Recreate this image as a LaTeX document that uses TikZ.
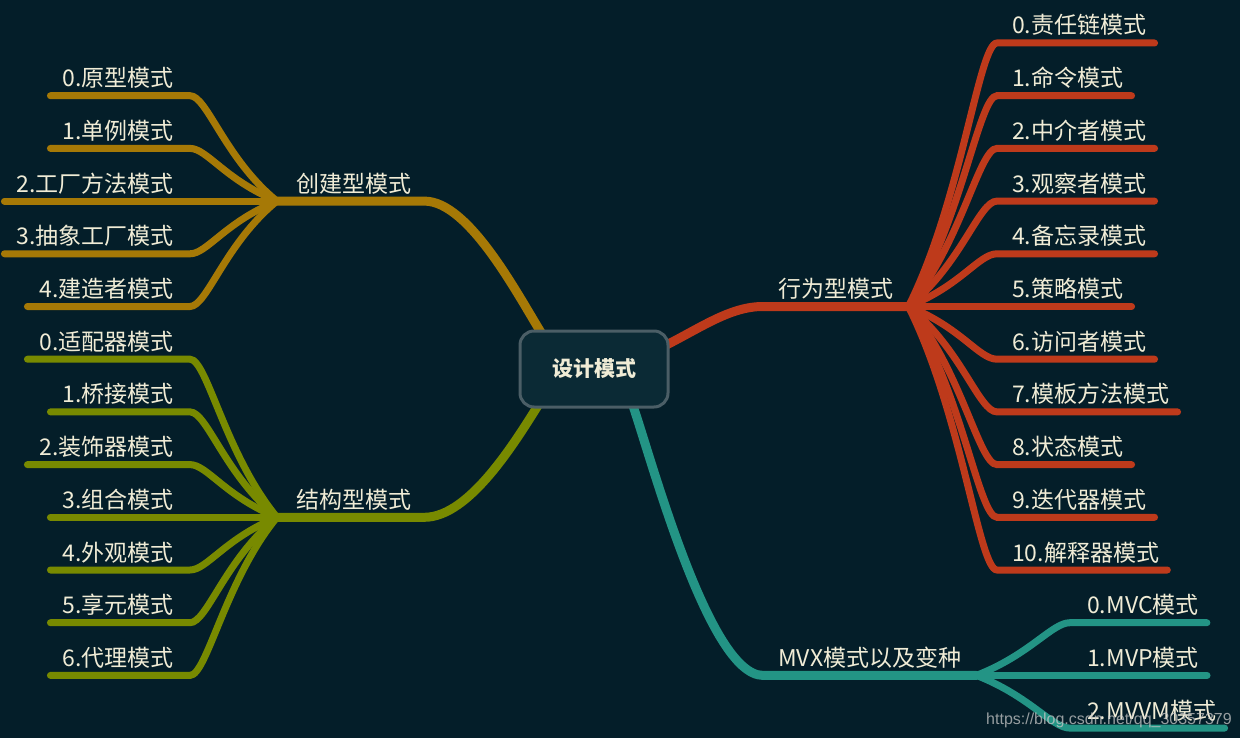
\documentclass[tikz,border=0pt]{standalone}
\usepackage{fontspec}
\setmainfont{Noto Sans CJK SC}
\newfontfamily\wmfont{Liberation Sans}
\usetikzlibrary{backgrounds}

\definecolor{bgcol}{RGB}{4,30,41}
\definecolor{txtcol}{RGB}{240,236,214}
\definecolor{rootfill}{RGB}{11,42,53}
\definecolor{rootline}{RGB}{75,94,102}
\definecolor{goldcol}{RGB}{166,121,6}
\definecolor{olivecol}{RGB}{120,138,0}
\definecolor{redcol}{RGB}{190,58,27}
\definecolor{tealcol}{RGB}{35,148,133}
\definecolor{wmcol}{RGB}{200,200,200}

\begin{document}
\begin{tikzpicture}[x=1pt,y=-1pt,
  leaf/.style={text=txtcol, font=\fontsize{23}{28}\selectfont, inner sep=0pt},
  rootbox/.style={draw=rootline, fill=rootfill, line width=3pt, rounded corners=14pt,
    minimum width=148pt, minimum height=76pt, text=txtcol,
    font=\fontsize{21}{24}\selectfont\bfseries},
  conn/.style={line width=7pt, line cap=round},
  trunk/.style={line width=9pt, line cap=round}]
\useasboundingbox (0,0) rectangle (1240,738);
\node[rootbox] (root) at (594,369) {设计模式};
% main topics
\node[leaf, anchor=base west] (A) at (296,192.1) {创建型模式};
\node[leaf, anchor=base west] (B) at (778,297.5) {行为型模式};
\node[leaf, anchor=base west] (C) at (296,508.3) {结构型模式};
\node[leaf, anchor=base west] (D) at (778,666.4) {MVX模式以及变种};
\coordinate (jA) at ([shift={(-19,9)}]A.base west);
\coordinate (jB) at ([shift={(15,9)}]B.base east);
\coordinate (jC) at ([shift={(-19,9)}]C.base west);
\coordinate (jD) at ([shift={(15,9)}]D.base east);
% creational
\node[leaf, anchor=base east] (a0) at (174,86.7) {0.原型模式};
\node[leaf, anchor=base east] (a1) at (174,139.4) {1.单例模式};
\node[leaf, anchor=base east] (a2) at (174,192.1) {2.工厂方法模式};
\node[leaf, anchor=base east] (a3) at (174,244.8) {3.抽象工厂模式};
\node[leaf, anchor=base east] (a4) at (174,297.5) {4.建造者模式};
% structural
\node[leaf, anchor=base east] (c0) at (174,350.2) {0.适配器模式};
\node[leaf, anchor=base east] (c1) at (174,402.9) {1.桥接模式};
\node[leaf, anchor=base east] (c2) at (174,455.6) {2.装饰器模式};
\node[leaf, anchor=base east] (c3) at (174,508.3) {3.组合模式};
\node[leaf, anchor=base east] (c4) at (174,561) {4.外观模式};
\node[leaf, anchor=base east] (c5) at (174,613.7) {5.享元模式};
\node[leaf, anchor=base east] (c6) at (174,666.4) {6.代理模式};
% behavioral
\node[leaf, anchor=base west] (b0) at (1012,34) {0.责任链模式};
\node[leaf, anchor=base west] (b1) at (1012,86.7) {1.命令模式};
\node[leaf, anchor=base west] (b2) at (1012,139.4) {2.中介者模式};
\node[leaf, anchor=base west] (b3) at (1012,192.1) {3.观察者模式};
\node[leaf, anchor=base west] (b4) at (1012,244.8) {4.备忘录模式};
\node[leaf, anchor=base west] (b5) at (1012,297.5) {5.策略模式};
\node[leaf, anchor=base west] (b6) at (1012,350.2) {6.访问者模式};
\node[leaf, anchor=base west] (b7) at (1012,402.9) {7.模板方法模式};
\node[leaf, anchor=base west] (b8) at (1012,455.6) {8.状态模式};
\node[leaf, anchor=base west] (b9) at (1012,508.3) {9.迭代器模式};
\node[leaf, anchor=base west] (b10) at (1012,561) {10.解释器模式};
% mvx
\node[leaf, anchor=base west] (d0) at (1087,613.7) {0.MVC模式};
\node[leaf, anchor=base west] (d1) at (1087,666.4) {1.MVP模式};
\node[leaf, anchor=base west] (d2) at (1087,719.1) {2.MVVM模式};
\node[font=\wmfont\fontsize{16}{19}\selectfont, text=wmcol, text opacity=0.75,
  anchor=base west, inner sep=0pt] (wm) at (986,724) {https://blog.csdn.net/qq\_30357379};

\begin{scope}[on background layer]
\fill[bgcol] (0,0) rectangle (1240,738);
% trunks
\draw[trunk, goldcol] ([shift={(25,7)}]root.north west) .. controls +(-25,-40) and +(45,0) .. ([shift={(13,9)}]A.base east) -- (jA);
\draw[trunk, olivecol] ([shift={(22,-7)}]root.south west) .. controls +(-25,40) and +(45,0) .. ([shift={(13,9)}]C.base east) -- (jC);
\draw[trunk, redcol] ([shift={(-8,18)}]root.north east) .. controls +(40,-20) and +(-33,0) .. ([shift={(-15,9)}]B.base west) -- (jB);
\draw[trunk, tealcol] ([shift={(-38,-7)}]root.south east) .. controls +(18,50) and +(-55,0) .. ([shift={(-15,9)}]D.base west) -- (jD);
% creational
\draw[conn, goldcol] (jA) .. controls +(-52,-42.2) and +(17,0) .. ([shift={(16,9)}]a0.base east) -- ([shift={(-12,9)}]a0.base west);
\draw[conn, goldcol] (jA) .. controls +(-52,-21.1) and +(17,0) .. ([shift={(16,9)}]a1.base east) -- ([shift={(-12,9)}]a1.base west);
\draw[conn, goldcol] (jA) -- ([shift={(16,9)}]a2.base east) -- ([shift={(-12,9)}]a2.base west);
\draw[conn, goldcol] (jA) .. controls +(-52,21.1) and +(17,0) .. ([shift={(16,9)}]a3.base east) -- ([shift={(-12,9)}]a3.base west);
\draw[conn, goldcol] (jA) .. controls +(-52,42.2) and +(17,0) .. ([shift={(16,9)}]a4.base east) -- ([shift={(-12,9)}]a4.base west);
% structural
\draw[conn, olivecol] (jC) .. controls +(-52,-63.2) and +(17,0) .. ([shift={(16,9)}]c0.base east) -- ([shift={(-12,9)}]c0.base west);
\draw[conn, olivecol] (jC) .. controls +(-52,-42.2) and +(17,0) .. ([shift={(16,9)}]c1.base east) -- ([shift={(-12,9)}]c1.base west);
\draw[conn, olivecol] (jC) .. controls +(-52,-21.1) and +(17,0) .. ([shift={(16,9)}]c2.base east) -- ([shift={(-12,9)}]c2.base west);
\draw[conn, olivecol] (jC) -- ([shift={(16,9)}]c3.base east) -- ([shift={(-12,9)}]c3.base west);
\draw[conn, olivecol] (jC) .. controls +(-52,21.1) and +(17,0) .. ([shift={(16,9)}]c4.base east) -- ([shift={(-12,9)}]c4.base west);
\draw[conn, olivecol] (jC) .. controls +(-52,42.2) and +(17,0) .. ([shift={(16,9)}]c5.base east) -- ([shift={(-12,9)}]c5.base west);
\draw[conn, olivecol] (jC) .. controls +(-52,63.2) and +(17,0) .. ([shift={(16,9)}]c6.base east) -- ([shift={(-12,9)}]c6.base west);
% behavioral
\draw[conn, redcol] (jB) .. controls +(53,-105.4) and +(-18,0) .. ([shift={(-15,9)}]b0.base west) -- ([shift={(8,9)}]b0.base east);
\draw[conn, redcol] (jB) .. controls +(53,-84.3) and +(-18,0) .. ([shift={(-15,9)}]b1.base west) -- ([shift={(8,9)}]b1.base east);
\draw[conn, redcol] (jB) .. controls +(53,-63.2) and +(-18,0) .. ([shift={(-15,9)}]b2.base west) -- ([shift={(8,9)}]b2.base east);
\draw[conn, redcol] (jB) .. controls +(53,-42.2) and +(-18,0) .. ([shift={(-15,9)}]b3.base west) -- ([shift={(8,9)}]b3.base east);
\draw[conn, redcol] (jB) .. controls +(53,-21.1) and +(-18,0) .. ([shift={(-15,9)}]b4.base west) -- ([shift={(8,9)}]b4.base east);
\draw[conn, redcol] (jB) -- ([shift={(-15,9)}]b5.base west) -- ([shift={(8,9)}]b5.base east);
\draw[conn, redcol] (jB) .. controls +(53,21.1) and +(-18,0) .. ([shift={(-15,9)}]b6.base west) -- ([shift={(8,9)}]b6.base east);
\draw[conn, redcol] (jB) .. controls +(53,42.2) and +(-18,0) .. ([shift={(-15,9)}]b7.base west) -- ([shift={(8,9)}]b7.base east);
\draw[conn, redcol] (jB) .. controls +(53,63.2) and +(-18,0) .. ([shift={(-15,9)}]b8.base west) -- ([shift={(8,9)}]b8.base east);
\draw[conn, redcol] (jB) .. controls +(53,84.3) and +(-18,0) .. ([shift={(-15,9)}]b9.base west) -- ([shift={(8,9)}]b9.base east);
\draw[conn, redcol] (jB) .. controls +(53,105.4) and +(-18,0) .. ([shift={(-15,9)}]b10.base west) -- ([shift={(8,9)}]b10.base east);
% mvx
\draw[conn, tealcol] (jD) .. controls +(54,-21.1) and +(-18,0) .. ([shift={(-17,9)}]d0.base west) -- ([shift={(8,9)}]d0.base east);
\draw[conn, tealcol] (jD) -- ([shift={(-17,9)}]d1.base west) -- ([shift={(8,9)}]d1.base east);
\draw[conn, tealcol] (jD) .. controls +(54,21.1) and +(-18,0) .. ([shift={(-17,9)}]d2.base west) -- ([shift={(8,9)}]d2.base east);
\end{scope}
\end{tikzpicture}
\end{document}
